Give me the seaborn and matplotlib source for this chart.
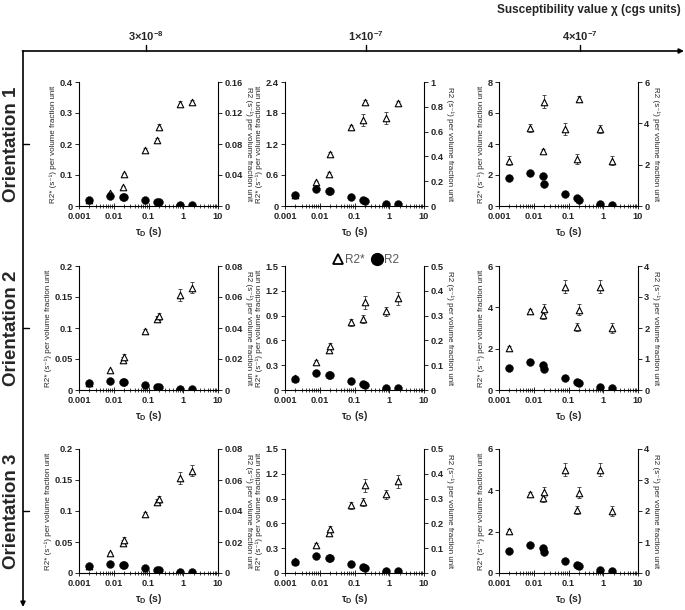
import numpy as np
import pandas as pd
import seaborn as sns
import matplotlib.pyplot as plt
from matplotlib.lines import Line2D
from matplotlib.ticker import FixedLocator, LogLocator, NullFormatter

# ---- data ----
tau_d = [0.002, 0.008, 0.018, 0.02, 0.08, 0.18, 0.2, 0.8, 1.8]
tau_labels = ["0.001", "0.01", "0.1", "1", "10"]
chi_labels = [r"3×10$^{\mathbf{-8}}$", r"1×10$^{\mathbf{-7}}$", r"4×10$^{\mathbf{-7}}$"]
orientations = ["Orientation 1", "Orientation 2", "Orientation 3"]

# orientation 1
r2s_o1_c1 = [0.02, 0.042, 0.06, 0.103, 0.18, 0.213, 0.255, 0.33, 0.335]
r2s_err_o1_c1 = [0.003, 0.004, 0.004, 0.004, 0.006, 0.006, 0.008, 0.008, 0.006]
r2_o1_c1 = [0.008, 0.013, 0.012, 0.012, 0.0076, 0.0048, 0.0046, 0.0016, 0.0012]

r2s_o1_c2 = [0.21, 0.457, 0.62, 1.01, 1.52, 1.67, 2.02, 1.70, 1.99]
r2s_err_o1_c2 = [0.02, 0.03, 0.03, 0.04, 0.04, 0.12, 0.04, 0.12, 0.04]
r2_o1_c2 = [0.0875, 0.1375, 0.125, 0.12, 0.075, 0.046, 0.044, 0.019, 0.014]

r2s_o1_c3 = [2.93, 5.02, 3.54, 6.74, 4.96, 3.04, 6.91, 4.96, 2.93]
r2s_err_o1_c3 = [0.3, 0.25, 0.15, 0.4, 0.4, 0.3, 0.2, 0.25, 0.3]
r2_o1_c3 = [1.35, 1.6, 1.43, 1.07, 0.57, 0.375, 0.28, 0.11, 0.07]

# orientation 2
r2s_o2_c1 = [0.011, 0.032, 0.049, 0.054, 0.095, 0.114, 0.119, 0.153, 0.165]
r2s_err_o2_c1 = [0.001, 0.002, 0.004, 0.004, 0.004, 0.005, 0.006, 0.01, 0.009]
r2_o2_c1 = [0.0043, 0.0058, 0.0054, 0.0052, 0.003, 0.0022, 0.002, 0.0006, 0.0004]

r2s_o2_c2 = [0.14, 0.34, 0.486, 0.535, 0.82, 0.86, 1.06, 0.95, 1.11]
r2s_err_o2_c2 = [0.01, 0.02, 0.03, 0.03, 0.04, 0.05, 0.08, 0.06, 0.08]
r2_o2_c2 = [0.046, 0.067, 0.062, 0.06, 0.036, 0.023, 0.02, 0.01, 0.008]

r2s_o2_c3 = [2.01, 3.81, 3.63, 3.92, 5.0, 3.06, 3.89, 5.0, 3.01]
r2s_err_o2_c3 = [0.1, 0.12, 0.2, 0.25, 0.3, 0.2, 0.25, 0.3, 0.25]
r2_o2_c3 = [0.7, 0.9, 0.81, 0.67, 0.38, 0.26, 0.21, 0.087, 0.067]

# orientation 3
r2s_o3_c1 = [0.011, 0.032, 0.049, 0.054, 0.095, 0.114, 0.119, 0.153, 0.165]
r2s_err_o3_c1 = [0.001, 0.002, 0.004, 0.004, 0.004, 0.005, 0.006, 0.01, 0.009]
r2_o3_c1 = [0.0043, 0.0058, 0.0054, 0.0052, 0.003, 0.0022, 0.002, 0.0006, 0.0004]

r2s_o3_c2 = [0.14, 0.34, 0.486, 0.535, 0.82, 0.86, 1.06, 0.95, 1.11]
r2s_err_o3_c2 = [0.01, 0.02, 0.03, 0.03, 0.04, 0.05, 0.08, 0.06, 0.08]
r2_o3_c2 = [0.046, 0.067, 0.062, 0.06, 0.036, 0.023, 0.02, 0.01, 0.008]

r2s_o3_c3 = [2.01, 3.81, 3.63, 3.92, 5.0, 3.06, 3.89, 5.0, 3.01]
r2s_err_o3_c3 = [0.1, 0.12, 0.2, 0.25, 0.3, 0.2, 0.25, 0.3, 0.25]
r2_o3_c3 = [0.7, 0.9, 0.81, 0.67, 0.38, 0.26, 0.21, 0.087, 0.067]

panels = [
    [(r2s_o1_c1, r2s_err_o1_c1, r2_o1_c1), (r2s_o1_c2, r2s_err_o1_c2, r2_o1_c2), (r2s_o1_c3, r2s_err_o1_c3, r2_o1_c3)],
    [(r2s_o2_c1, r2s_err_o2_c1, r2_o2_c1), (r2s_o2_c2, r2s_err_o2_c2, r2_o2_c2), (r2s_o2_c3, r2s_err_o2_c3, r2_o2_c3)],
    [(r2s_o3_c1, r2s_err_o3_c1, r2_o3_c1), (r2s_o3_c2, r2s_err_o3_c2, r2_o3_c2), (r2s_o3_c3, r2s_err_o3_c3, r2_o3_c3)],
]

# (left max, left step count, right max, right step count)
row1_lims = [(0.4, 4, 0.16, 4), (2.4, 4, 1.0, 5), (8, 4, 6, 3)]
row23_lims = [(0.2, 4, 0.08, 4), (1.5, 5, 0.5, 5), (6, 3, 4, 4)]
axis_lims = [row1_lims, row23_lims, row23_lims]

# ---- style ----
sns.set_theme(style="white")
plt.rcParams['font.family'] = ['Liberation Sans', 'DejaVu Sans']
plt.rcParams['mathtext.fontset'] = 'custom'
plt.rcParams['mathtext.rm'] = 'Liberation Sans'
plt.rcParams['mathtext.bf'] = 'Liberation Sans:bold'
plt.rcParams['mathtext.it'] = 'Liberation Sans:italic'

W, H = 685, 610
fig = plt.figure(figsize=(W / 100, H / 100), dpi=100)

col_left = [79, 285, 499]
col_w = 139
row_top = [82, 266, 449]
row_h = 124

fmt = lambda v: f"{v:g}"

for r in range(3):
    for c in range(3):
        r2s, r2s_err, r2 = panels[r][c]
        lmax, ln, rmax, rn = axis_lims[r][c]
        ax = fig.add_axes([col_left[c] / W, 1 - (row_top[r] + row_h) / H, col_w / W, row_h / H])
        df = pd.DataFrame({"tau": tau_d, "r2s": r2s, "err": r2s_err, "r2": r2})

        ax.errorbar(df["tau"], df["r2s"], yerr=df["err"], fmt="none", ecolor="#333333",
                    elinewidth=0.6, capsize=1.2, capthick=0.6, zorder=2)
        sns.scatterplot(data=df, x="tau", y="r2s", ax=ax, marker="^", s=22,
                        facecolor="white", edgecolor="black", linewidth=0.8, zorder=3, legend=False)
        ax.set_xscale("log")
        ax.set_xlim(0.001, 10)
        ax.set_ylim(0, lmax)

        ax2 = ax.twinx()
        sns.scatterplot(data=df, x="tau", y="r2", ax=ax2, marker="o", s=32,
                        color="black", edgecolor="black", linewidth=0.3, legend=False)
        ax2.set_xscale("log")
        ax2.set_xlim(0.001, 10)
        ax2.set_ylim(0, rmax)

        lt = np.linspace(0, lmax, ln + 1)
        rt = np.linspace(0, rmax, rn + 1)
        ax.yaxis.set_major_locator(FixedLocator(lt))
        ax.set_yticklabels([fmt(round(v, 4)) for v in lt])
        ax2.yaxis.set_major_locator(FixedLocator(rt))
        ax2.set_yticklabels([fmt(round(v, 4)) for v in rt])

        ax.xaxis.set_major_locator(FixedLocator([0.001, 0.01, 0.1, 1, 10]))
        ax.set_xticklabels(tau_labels)
        ax.xaxis.set_minor_locator(LogLocator(base=10, subs=np.arange(2, 10)))
        ax.xaxis.set_minor_formatter(NullFormatter())

        for a in (ax, ax2):
            a.spines["top"].set_visible(False)
            for s in ("left", "right", "bottom"):
                a.spines[s].set_color("black")
                a.spines[s].set_linewidth(0.8)
        ax.spines["right"].set_visible(False)
        ax2.spines["left"].set_visible(False)
        ax2.spines["bottom"].set_visible(False)

        ax.tick_params(axis="x", which="major", direction="inout", length=4, width=0.7,
                       labelsize=6.7, pad=2, bottom=True)
        ax.tick_params(axis="x", which="minor", direction="inout", length=3, width=0.6, bottom=True)
        ax.tick_params(axis="y", direction="out", length=3, width=0.7, labelsize=6.7, pad=1.5, left=True)
        ax2.tick_params(axis="y", direction="out", length=3, width=0.7, labelsize=6.7, pad=1.5, right=True)
        for lab in ax.get_xticklabels() + ax.get_yticklabels() + ax2.get_yticklabels():
            lab.set_fontweight("bold")

        ax.set_xlabel(r"τ$_\mathbf{D}$ (s)", fontsize=7.5, fontweight="bold", labelpad=3)
        ax.set_ylabel("R2* (s⁻¹) per volume fraction unit", fontsize=5.8, labelpad=2)
        ax2.set_ylabel("R2 (s⁻¹) per volume fraction unit", fontsize=5.8, rotation=270, labelpad=7)
        ax.grid(False)
        ax2.grid(False)

        if r == 1 and c == 1:
            handles = [
                Line2D([], [], marker="^", ls="none", markersize=7.5, markerfacecolor="white",
                       markeredgecolor="black", markeredgewidth=1.3),
                Line2D([], [], marker="o", ls="none", markersize=8.5, color="black"),
            ]
            leg = ax.legend(handles, ["R2*", "R2"], loc="center", bbox_to_anchor=(0.58, 1.05),
                            ncol=2, frameon=False, fontsize=8.5, handletextpad=0.1,
                            columnspacing=0.6, handlelength=1.0, borderpad=0)
            for t in leg.get_texts():
                t.set_color("#595959")

# ---- outer frame: susceptibility axis and orientation axis ----
ov = fig.add_axes([0, 0, 1, 1], zorder=-1)
ov.set_xlim(0, W)
ov.set_ylim(H, 0)
ov.axis("off")
ov.patch.set_alpha(0)

line_y = 51
line_x = 23
ov.annotate("", xy=(684, line_y), xytext=(line_x - 0.5, line_y),
            arrowprops=dict(arrowstyle="-|>", color="black", lw=1.2, mutation_scale=7, shrinkA=0, shrinkB=0))
ov.annotate("", xy=(line_x, 607), xytext=(line_x, line_y),
            arrowprops=dict(arrowstyle="-|>", color="black", lw=1.2, mutation_scale=7, shrinkA=0, shrinkB=0))

chi_x = [146, 366, 580]
for x, lab in zip(chi_x, chi_labels):
    ov.plot([x, x], [line_y, line_y - 6], color="black", lw=1.0)
    ov.text(x, line_y - 15, lab, ha="center", va="center", fontsize=8, fontweight="bold")
ov.text(681, 10, "Susceptibility value χ (cgs units)", ha="right", va="center",
        fontsize=8.5, fontweight="bold")

for r, lab in enumerate(orientations):
    y = row_top[r] + row_h / 2
    ov.plot([line_x, line_x + 6], [y, y], color="black", lw=1.0)
    ov.text(12, y, lab, ha="center", va="center", rotation=90, fontsize=13.5, fontweight="bold")

fig.savefig("out.png", dpi=100)
